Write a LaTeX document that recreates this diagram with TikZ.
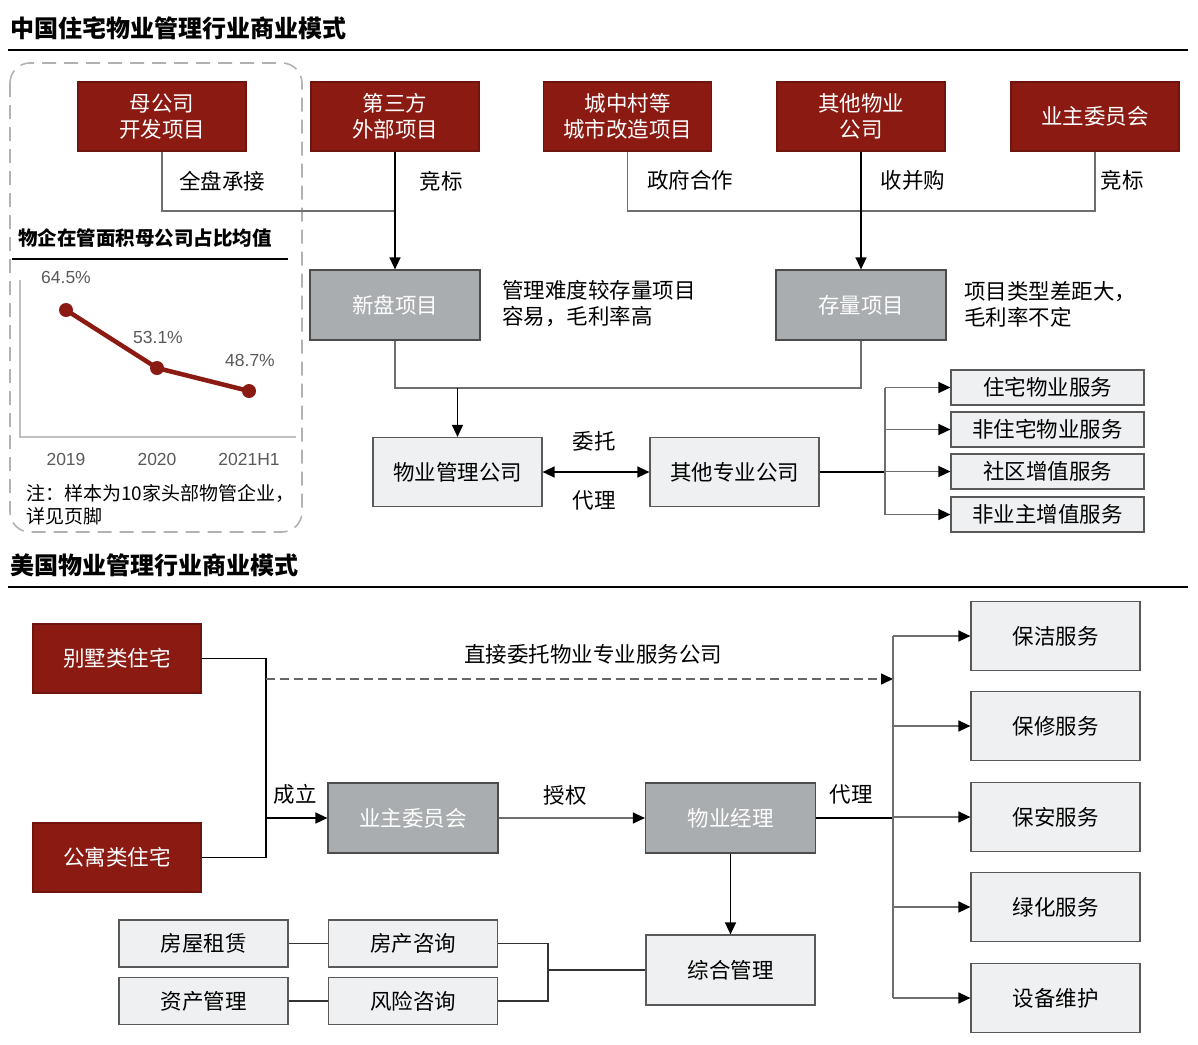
\documentclass[tikz,border=0pt]{standalone}
\usepackage{fontspec}
\setmainfont{Noto Sans CJK SC}
\newfontfamily\numfont{Liberation Sans}
\usetikzlibrary{arrows.meta,positioning,calc}
\definecolor{brickred}{HTML}{8B1A12}
\definecolor{midgray}{HTML}{A9ADAF}
\definecolor{palegray}{HTML}{EFF0F1}
\definecolor{linegray}{HTML}{6E6E6E}
\tikzset{
  boxfont/.style={font=\fontsize{21.5}{26}\selectfont},
  redbox/.style={rectangle, fill=brickred, draw=brickred!80!black, line width=1.2pt, text=white, align=center, minimum width=168pt, minimum height=69pt, boxfont},
  darkbox/.style={rectangle, fill=midgray, draw=black!70, line width=1.2pt, text=white, minimum width=170pt, minimum height=70pt, boxfont},
  lightbox/.style={rectangle, fill=palegray, draw=black!65, line width=1.2pt, minimum width=169pt, minimum height=69pt, boxfont},
  servbox/.style={lightbox, minimum width=193pt, minimum height=35pt},
  smallbox/.style={lightbox, minimum height=47pt},
  connect/.style={-{Triangle[length=12pt,width=11pt,color=black]}, line width=1.4pt, draw=black},
  link/.style={line width=1.4pt, draw=linegray},
  lbl/.style={inner sep=0pt, font=\fontsize{21.5}{26}\selectfont},
  heading/.style={inner sep=0pt, anchor=west, font=\fontsize{24}{28}\selectfont\bfseries},
  dot/.style={circle, fill=brickred, inner sep=0pt, minimum size=14pt},
  pct/.style={inner sep=0pt, text=black!65, font=\numfont\fontsize{17.5}{20}\selectfont}
}

\begin{document}
\begin{tikzpicture}[x=1pt,y=-1pt]
    \useasboundingbox (0,0) rectangle (1198,1044);

    % China
    \node[heading] (TitleCN) at (10,28) {中国住宅物业管理行业商业模式};
    \draw[line width=1.6pt] (8,50) -- (1188,50);
    \draw[draw=black!30, line width=1.6pt, dash pattern=on 14pt off 8pt, rounded corners=20pt] (10,63) rectangle (302,532);

    \node[redbox] (Parent) at (162,116.5) {母公司\\开发项目};
    \node[redbox] (Third) at (395,116.5) {第三方\\外部项目};
    \node[redbox] (Village) at (627.5,116.5) {城中村等\\城市改造项目};
    \node[redbox] (OtherPM) at (861,116.5) {其他物业\\公司};
    \node[redbox] (Owners) at (1095,116.5) {业主委员会};

    \node[darkbox] (NewProj) at (395,305) {新盘项目};
    \node[darkbox] (OldProj) at (861,305) {存量项目};
    \node[lbl, anchor=west, align=left] (NewNote) at (502,304) {管理难度较存量项目\\容易，毛利率高};
    \node[lbl, anchor=west, align=left] (OldNote) at (964,304) {项目类型差距大，\\毛利率不定};

    \node[lightbox] (PMCo) at (457.5,472) {物业管理公司};
    \node[lightbox] (SpecCo) at (734.5,472) {其他专业公司};

    \node[servbox] (S1) at (1047.5,387.5) {住宅物业服务};
    \node[servbox] (S2) at (1047.5,429.5) {非住宅物业服务};
    \node[servbox] (S3) at (1047.5,471.5) {社区增值服务};
    \node[servbox] (S4) at (1047.5,514.5) {非业主增值服务};

    \draw[link] (Parent.south) |- (396,211) coordinate (j1);
    \draw[link] (Village.south) |- (Owners.south |- 0,211) -- (Owners.south);
    \draw[connect] (Third.south) -- (NewProj.north);
    \draw[connect] (OtherPM.south) -- (OldProj.north);
    \node[lbl] (L1) at (222,181) {全盘承接};
    \node[lbl] (L2) at (441,181) {竞标};
    \node[lbl] (L3) at (690,180) {政府合作};
    \node[lbl] (L4) at (913,180) {收并购};
    \node[lbl] (L5) at (1122,180) {竞标};

    \draw[link] (NewProj.south) |- (OldProj.south |- 0,388) -- (OldProj.south);
    \coordinate (j2) at (457.5,388);
    \draw[connect] (j2) -- (PMCo.north);
    \draw[{Triangle[length=12pt,width=11pt]}-{Triangle[length=12pt,width=11pt]}, line width=1.4pt] (PMCo.east) -- (SpecCo.west);
    \node[lbl] (L6) at (594,441) {委托};
    \node[lbl] (L7) at (594,500) {代理};

    \coordinate (j3) at (885,472);
    \draw[line width=1.6pt] (SpecCo.east) -- (j3);
    \draw[link] (885,387.5) -- (885,514.5);
    \foreach \s in {S1,S2,S3,S4}
        \draw[connect, draw=linegray] (j3 |- \s.west) -- (\s.west);

    % chart
    \node[inner sep=0pt, anchor=west, font=\fontsize{19.5}{22}\selectfont\bfseries] (ChartTitle) at (18,238) {物企在管面积母公司占比均值};
    \draw[line width=1.2pt] (12,259) -- (288,259);
    \draw[draw=black!25, line width=1.2pt] (20,280) -- (20,437) -- (296,437);
    \node[dot] (P1) at (66,310) {};
    \node[dot] (P2) at (157,368) {};
    \node[dot] (P3) at (249,391) {};
    \draw[brickred, line width=4.5pt] (P1.center) -- (P2.center) -- (P3.center);
    \node[pct] (V1) at (66,277) {64.5\%};
    \node[pct] (V2) at (158,337) {53.1\%};
    \node[pct] (V3) at (250,360) {48.7\%};
    \node[pct] (Y1) at (66,459) {2019};
    \node[pct] (Y2) at (157,459) {2020};
    \node[pct] (Y3) at (249,459) {2021H1};
    \node[inner sep=0pt, anchor=west, align=left, font=\fontsize{19}{23}\selectfont] (ChartNote) at (26,505) {注：样本为10家头部物管企业，\\详见页脚};

    % USA
    \node[heading] (TitleUS) at (10,565) {美国物业管理行业商业模式};
    \draw[line width=1.6pt] (8,587) -- (1188,587);

    \node[redbox] (Villa) at (117,658.5) {别墅类住宅};
    \node[redbox] (Apt) at (117,857.5) {公寓类住宅};
    \node[darkbox] (Board) at (413,818) {业主委员会};
    \node[darkbox] (Manager) at (730.5,818) {物业经理};
    \node[lightbox, minimum height=70pt] (General) at (730.5,970) {综合管理};

    \node[smallbox] (Lease) at (203.5,943.5) {房屋租赁};
    \node[smallbox] (Estate) at (413,943.5) {房产咨询};
    \node[smallbox] (Asset) at (203.5,1001) {资产管理};
    \node[smallbox] (Risk) at (413,1001) {风险咨询};

    \node[lightbox] (C1) at (1055.5,636) {保洁服务};
    \node[lightbox] (C2) at (1055.5,726) {保修服务};
    \node[lightbox] (C3) at (1055.5,817) {保安服务};
    \node[lightbox] (C4) at (1055.5,907) {绿化服务};
    \node[lightbox] (C5) at (1055.5,998) {设备维护};

    \coordinate (k1) at (266,818);
    \draw[line width=1.4pt] (Villa.east) -| (k1) |- (Apt.east);
    \draw[connect] (k1) -- (Board.west);
    \node[lbl] (L8) at (295,794) {成立};
    \coordinate (k2) at (893,679);
    \draw[connect, draw=black!60, dash pattern=on 9pt off 5pt] (266,679) -- (k2);
    \node[lbl] (L9) at (593,654) {直接委托物业专业服务公司};
    \draw[connect, draw=linegray] (Board.east) -- (Manager.west);
    \node[lbl] (L10) at (565,795) {授权};
    \coordinate (k3) at (893,818);
    \draw[line width=1.8pt] (Manager.east) -- (k3);
    \node[lbl] (L11) at (851,794) {代理};
    \draw[link] (893,636) -- (893,998);
    \foreach \c in {C1,C2,C3,C4,C5}
        \draw[connect, draw=linegray] (k3 |- \c.west) -- (\c.west);
    \draw[connect] (Manager.south) -- (General.north);

    \draw[link, draw=black!80] (Lease.east) -- (Estate.west);
    \draw[link, draw=black!80] (Asset.east) -- (Risk.west);
    \coordinate (k4) at (548,970);
    \draw[link, draw=black!80] (Estate.east) -| (k4) |- (Risk.east);
    \draw[link, draw=black!80] (k4) -- (General.west);
\end{tikzpicture}
\end{document}
